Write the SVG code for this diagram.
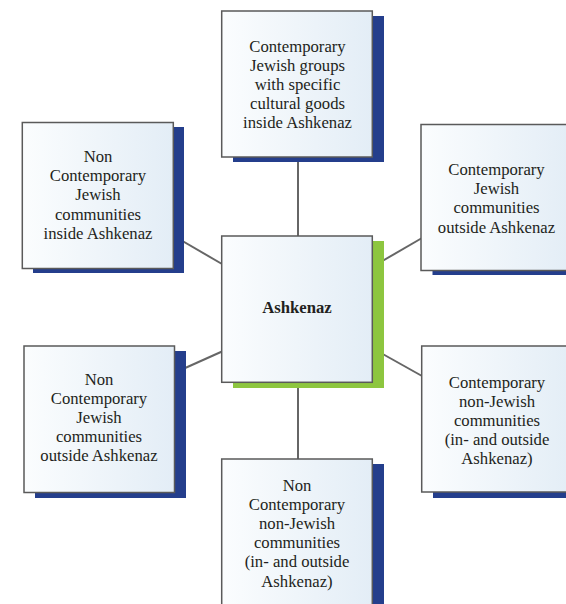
<svg xmlns="http://www.w3.org/2000/svg" width="566" height="604" viewBox="0 0 566 604">
<defs>
<linearGradient id="g" x1="0" y1="0" x2="1" y2="0">
<stop offset="0" stop-color="#fbfdfe"/>
<stop offset="1" stop-color="#e3edf6"/>
</linearGradient>
<style>
.box{fill:url(#g);stroke:#5a5a5a;stroke-width:1.5}
.sh{fill:#243e8c}
.shg{fill:#8dc63f}
.t{font-family:'Liberation Serif','Times New Roman',serif;font-size:16.7px;fill:#231f20;text-anchor:middle}
.b{font-weight:bold}
.c{stroke:#666;stroke-width:2;fill:none}
</style>
</defs>
<rect width="566" height="604" fill="#fff"/>
<g id="connectors">
<line class="c" x1="298" y1="157" x2="298" y2="236"/>
<line class="c" x1="298" y1="382" x2="298" y2="459"/>
<line class="c" x1="173" y1="235.5" x2="222" y2="264"/>
<line class="c" x1="372" y1="267" x2="422" y2="238"/>
<line class="c" x1="174" y1="373" x2="222" y2="351.5"/>
<line class="c" x1="372" y1="348" x2="422" y2="376"/>
</g>
<g id="center">
<rect class="shg" x="233" y="241" width="151" height="147"/>
<rect class="box" x="221.7" y="236" width="150.6" height="146.3"/>
<text class="t b" x="297" y="313">Ashkenaz</text>
</g>
<g id="top">
<rect class="sh" x="233" y="16" width="151" height="146"/>
<rect class="box" x="221.7" y="11" width="150.6" height="146"/>
<text class="t"><tspan x="297.5" y="51.5">Contemporary</tspan><tspan x="297.5" y="70.7">Jewish groups</tspan><tspan x="297.5" y="89.9">with specific</tspan><tspan x="297.5" y="109.1">cultural goods</tspan><tspan x="297.5" y="128.3">inside Ashkenaz</tspan></text>
</g>
<g id="left-top">
<rect class="sh" x="33" y="127" width="151" height="146"/>
<rect class="box" x="22.3" y="122.5" width="151" height="146"/>
<text class="t"><tspan x="98" y="162">Non</tspan><tspan x="98" y="181.2">Contemporary</tspan><tspan x="98" y="200.4">Jewish</tspan><tspan x="98" y="219.6">communities</tspan><tspan x="98" y="238.8">inside Ashkenaz</tspan></text>
</g>
<g id="right-top">
<rect class="sh" x="432.5" y="129" width="151" height="146"/>
<rect class="box" x="421" y="124.5" width="151" height="146"/>
<text class="t"><tspan x="496.5" y="175">Contemporary</tspan><tspan x="496.5" y="194.2">Jewish</tspan><tspan x="496.5" y="213.4">communities</tspan><tspan x="496.5" y="232.6">outside Ashkenaz</tspan></text>
</g>
<g id="left-bottom">
<rect class="sh" x="35" y="351" width="151" height="147"/>
<rect class="box" x="24" y="346" width="150.5" height="146.5"/>
<text class="t"><tspan x="99" y="384.5">Non</tspan><tspan x="99" y="403.7">Contemporary</tspan><tspan x="99" y="422.9">Jewish</tspan><tspan x="99" y="442.1">communities</tspan><tspan x="99" y="461.3">outside Ashkenaz</tspan></text>
</g>
<g id="right-bottom">
<rect class="sh" x="433" y="351" width="151" height="147"/>
<rect class="box" x="421.7" y="346" width="151" height="146"/>
<text class="t"><tspan x="497" y="387.5">Contemporary</tspan><tspan x="497" y="406.7">non-Jewish</tspan><tspan x="497" y="425.9">communities</tspan><tspan x="497" y="445.1">(in- and outside</tspan><tspan x="497" y="464.3">Ashkenaz)</tspan></text>
</g>
<g id="bottom">
<rect class="sh" x="233" y="464" width="151" height="146"/>
<rect class="box" x="221.7" y="459" width="150.6" height="150"/>
<text class="t"><tspan x="297" y="490.5">Non</tspan><tspan x="297" y="509.7">Contemporary</tspan><tspan x="297" y="528.9">non-Jewish</tspan><tspan x="297" y="548.1">communities</tspan><tspan x="297" y="567.3">(in- and outside</tspan><tspan x="297" y="586.5">Ashkenaz)</tspan></text>
</g>
</svg>
